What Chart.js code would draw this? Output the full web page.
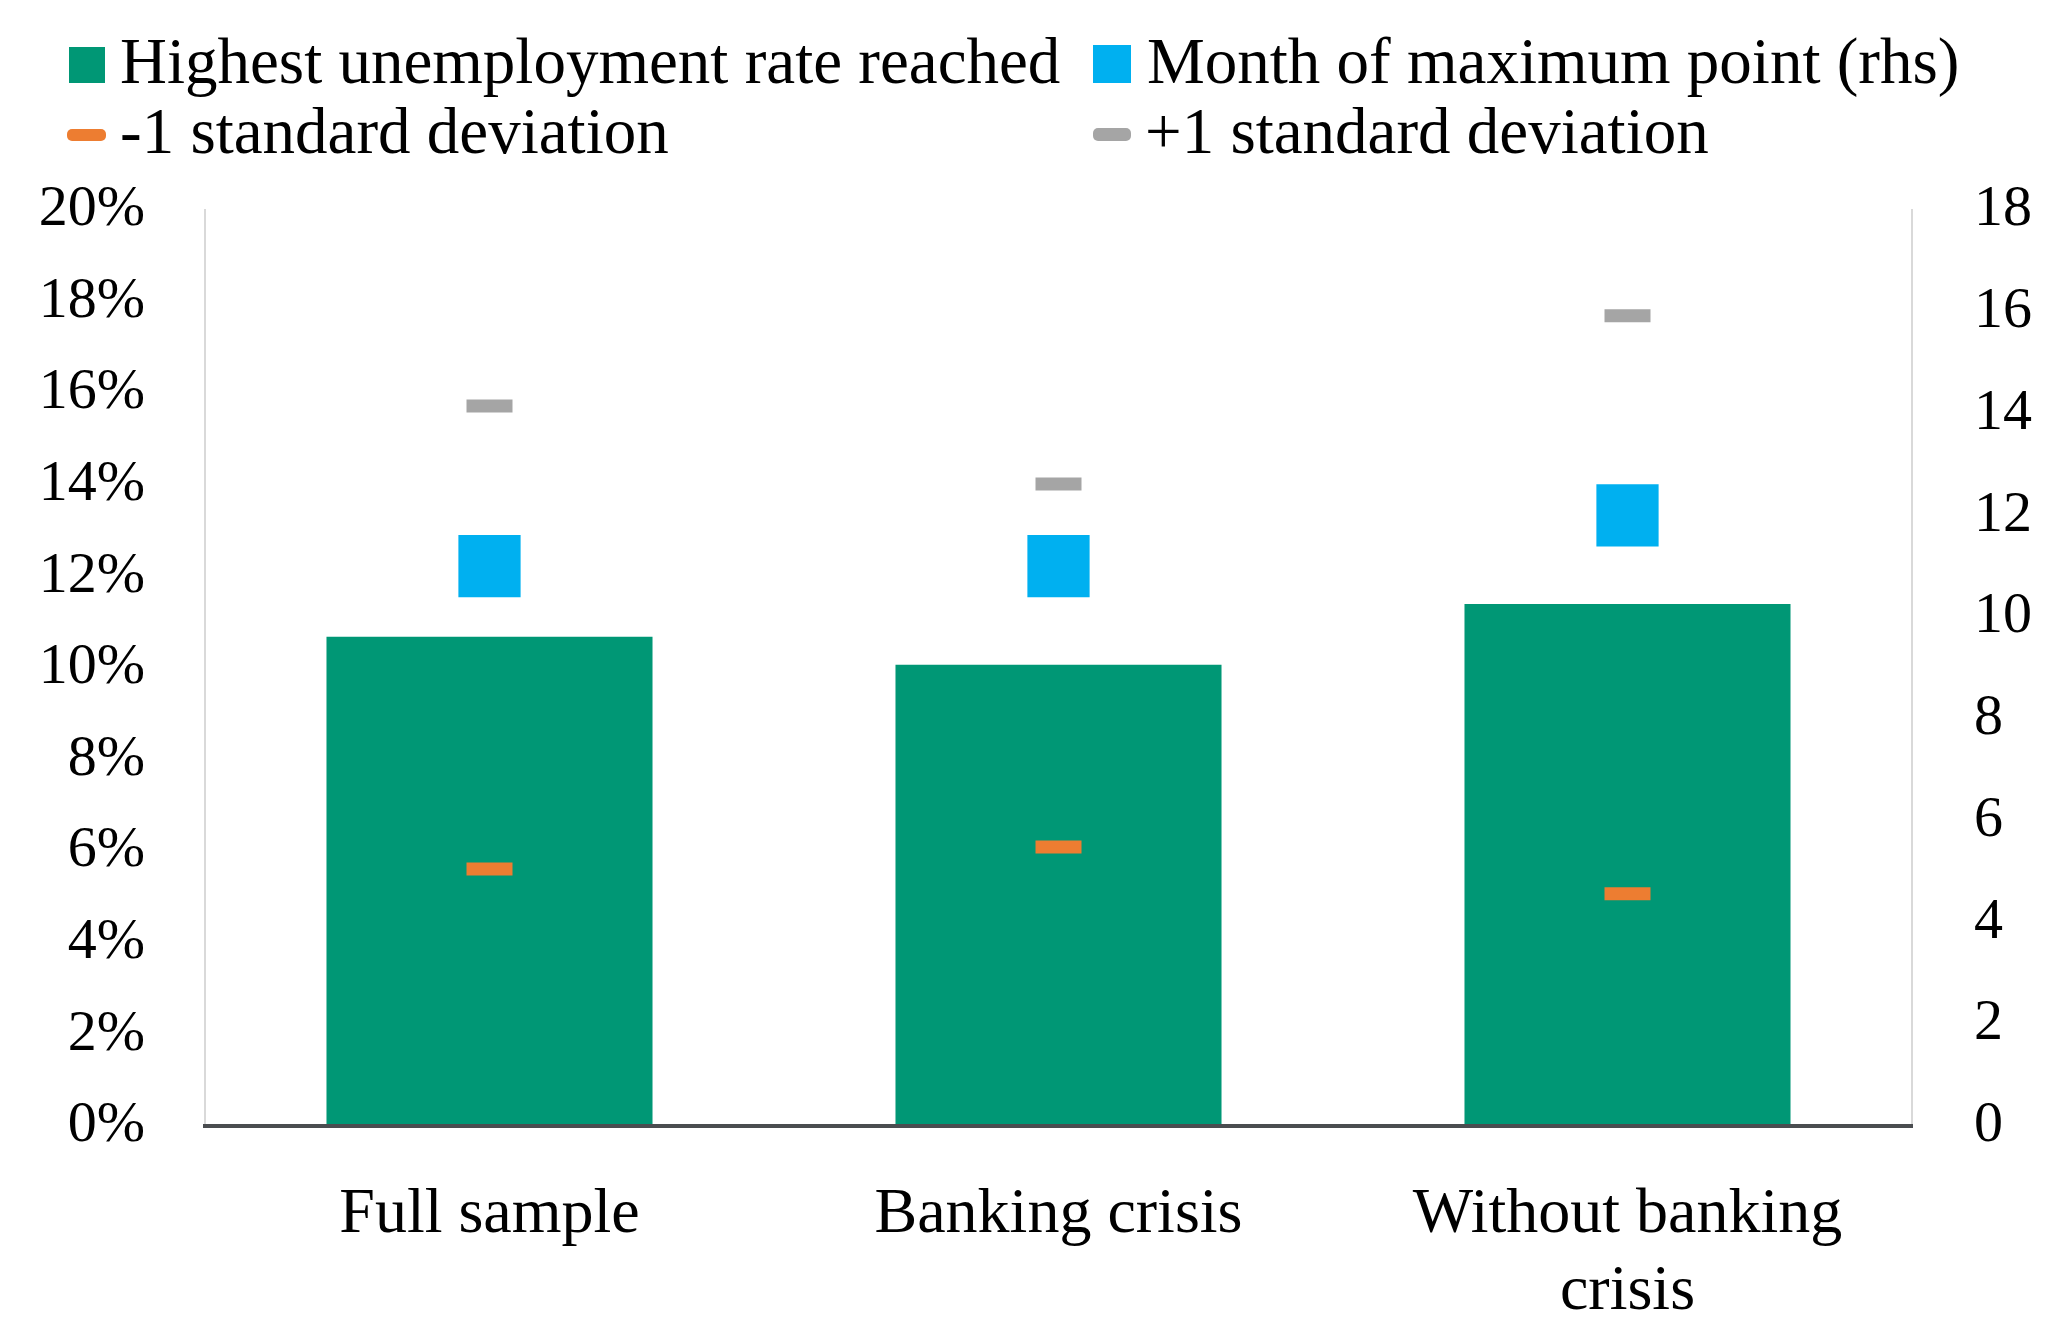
<!DOCTYPE html>
<html><head><meta charset="utf-8">
<script src="https://cdn.jsdelivr.net/npm/chart.js@4.4.0/dist/chart.umd.min.js"></script>
<style>
html,body{margin:0;padding:0;background:#fff;}
#wrap{position:relative;width:2055px;height:1333px;overflow:hidden;}
#c{position:absolute;left:0;top:0;width:2055px;height:1333px;}
.lg{position:absolute;font-family:"Liberation Serif",serif;font-size:65px;line-height:65px;color:#000;white-space:nowrap;}
.mk{position:absolute;}
</style></head><body>
<div id="wrap"><canvas id="c" width="2055" height="1333"></canvas><div id="legend"></div></div>
<script>
// ---- data ----
const categories = ["Full sample", "Banking crisis", "Without banking crisis"];
const highestRate = [10.68, 10.07, 11.40];     // % (left axis)
const monthOfMax = [11, 11, 12];               // months (right axis)
const minusOneSD = [5.61, 6.09, 5.07];         // % (left axis)
const plusOneSD = [15.72, 14.02, 17.69];       // % (left axis)
const leftTicks = [0, 2, 4, 6, 8, 10, 12, 14, 16, 18, 20];
const rightTicks = [0, 2, 4, 6, 8, 10, 12, 14, 16, 18];
const seriesNames = ["Highest unemployment rate reached", "Month of maximum point (rhs)", "-1 standard deviation", "+1 standard deviation"];
const seriesColors = ["#009775", "#00B0F0", "#ED7D31", "#A5A5A5"];

function wrap(s, max) {
  const words = s.split(' '); const lines = []; let cur = '';
  for (const w of words) {
    if (cur && (cur + ' ' + w).length > max) { lines.push(cur); cur = w; }
    else cur = cur ? cur + ' ' + w : w;
  }
  lines.push(cur); return lines;
}

// ---- legend (HTML, two aligned columns) ----
const legendLayout = [
  {mx: 69, my: 47, mw: 36, mh: 36, r: 0, tx: 120, ty: 29},
  {mx: 1093, my: 45, mw: 38, mh: 38, r: 0, tx: 1147, ty: 29},
  {mx: 67, my: 129, mw: 39, mh: 12, r: 5, tx: 120, ty: 99},
  {mx: 1093, my: 128, mw: 38, mh: 13, r: 5, tx: 1145, ty: 99}
];
const lgEl = document.getElementById('legend');
seriesNames.forEach((name, i) => {
  const L = legendLayout[i];
  const m = document.createElement('div');
  m.className = 'mk';
  m.style.cssText = `left:${L.mx}px;top:${L.my}px;width:${L.mw}px;height:${L.mh}px;background:${seriesColors[i]};border-radius:${L.r}px;`;
  lgEl.appendChild(m);
  const t = document.createElement('div');
  t.className = 'lg';
  t.style.left = L.tx + 'px'; t.style.top = L.ty + 'px';
  t.textContent = name;
  lgEl.appendChild(t);
});

Chart.defaults.font.family = "'Liberation Serif', serif";
Chart.defaults.color = '#000';

new Chart(document.getElementById('c'), {
  data: {
    labels: categories,
    datasets: [
      {type: 'bar', label: seriesNames[0], data: highestRate, backgroundColor: seriesColors[0], borderWidth: 0,
       yAxisID: 'y', order: 4, barPercentage: 0.573, categoryPercentage: 1},
      {type: 'line', label: seriesNames[1], data: monthOfMax, yAxisID: 'y1', showLine: false,
       pointStyle: 'rect', pointRadius: 44, pointHoverRadius: 44, pointBackgroundColor: seriesColors[1], pointBorderWidth: 0, order: 1},
      {type: 'line', label: seriesNames[2], data: minusOneSD, yAxisID: 'y', showLine: false,
       pointStyle: 'line', pointRadius: 23, pointHoverRadius: 23, pointBorderWidth: 13, pointBorderColor: seriesColors[2], order: 2},
      {type: 'line', label: seriesNames[3], data: plusOneSD, yAxisID: 'y', showLine: false,
       pointStyle: 'line', pointRadius: 23, pointHoverRadius: 23, pointBorderWidth: 13, pointBorderColor: seriesColors[3], order: 3}
    ]
  },
  options: {
    responsive: false,
    devicePixelRatio: 1,
    animation: false,
    events: [],
    layout: {autoPadding: false, padding: {left: 0, right: 0, top: 210, bottom: 0}},
    plugins: {legend: {display: false}, tooltip: {enabled: false}},
    scales: {
      x: {
        grid: {display: false, drawTicks: false},
        border: {display: true, color: '#4a4d50', width: 4, z: 1},
        ticks: {font: {size: 64}, padding: 51, maxRotation: 0, autoSkip: false,
                callback: (v, i) => wrap(categories[i], 15)},
        afterFit: s => { s.height = 207; }
      },
      y: {
        position: 'left', min: leftTicks[0], max: leftTicks[leftTicks.length - 1],
        afterBuildTicks: s => { s.ticks = leftTicks.map(v => ({value: v})); },
        ticks: {font: {size: 58}, padding: 60, callback: v => v + '%'},
        grid: {display: false, drawTicks: false},
        border: {display: true, color: '#d9d9d9', width: 2},
        afterFit: s => { s.width = 205; }
      },
      y1: {
        position: 'right', min: rightTicks[0], max: rightTicks[rightTicks.length - 1],
        afterBuildTicks: s => { s.ticks = rightTicks.map(v => ({value: v})); },
        ticks: {font: {size: 58}, padding: 62},
        grid: {display: false, drawTicks: false},
        border: {display: true, color: '#d9d9d9', width: 2},
        afterFit: s => { s.width = 143; }
      }
    }
  }
});
</script>
</body></html>
